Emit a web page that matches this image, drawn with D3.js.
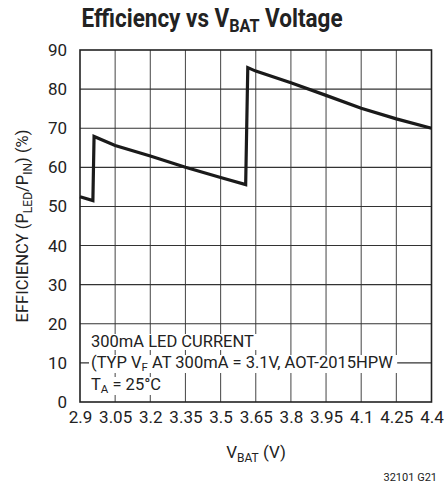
<!DOCTYPE html>
<html><head><meta charset="utf-8">
<script src="https://cdn.jsdelivr.net/npm/d3@7"></script>
<style>body{margin:0;background:#fff}svg{display:block}
text{font-family:"Liberation Sans Narrow","Roboto","Liberation Sans",sans-serif;fill:#222}</style>
</head><body><svg id="c" width="447" height="486"></svg>
<script>
const xTicks = [2.9, 3.05, 3.2, 3.35, 3.5, 3.65, 3.8, 3.95, 4.1, 4.25, 4.4];
const xTickLabels = ["2.9","3.05","3.2","3.35","3.5","3.65","3.8","3.95","4.1","4.25","4.4"];
const yTicks = [0,10,20,30,40,50,60,70,80,90];
const vbat = [2.9, 2.955, 2.96, 3.05, 3.2, 3.35, 3.5, 3.607, 3.616, 3.65, 3.8, 3.95, 4.1, 4.25, 4.4];
const efficiency = [52.5, 51.5, 67.9, 65.6, 62.9, 60.0, 57.4, 55.6, 85.5, 84.6, 81.6, 78.4, 75.1, 72.4, 70.0];

const svg = d3.select("#c");
const m = {l:80, r:431.5, t:50, b:402};
const x = d3.scaleLinear().domain([2.9,4.4]).range([m.l, m.r]);
const y = d3.scaleLinear().domain([0,90]).range([m.b, m.t]);

// grid
const g = svg.append("g");
g.selectAll("line.v").data(xTicks.slice(1,-1)).join("line")
  .attr("x1",d=>x(d)).attr("x2",d=>x(d)).attr("y1",m.t).attr("y2",m.b)
  .attr("stroke","#555").attr("stroke-width",1.1);
g.selectAll("line.h").data(yTicks.slice(1,-1)).join("line")
  .attr("x1",m.l).attr("x2",m.r).attr("y1",d=>y(d)).attr("y2",d=>y(d))
  .attr("stroke","#333").attr("stroke-width",1.1);

// annotation
const ann = svg.append("g").attr("font-size",16.5);
function annLine(yy, parts){
  const t = ann.append("text").attr("x",91).attr("y",yy);
  parts.forEach(p=>{
    const s = t.append("tspan").text(p.t);
    if(p.sub){ s.attr("font-size",11.5).attr("dy",3); }
    if(p.back){ s.attr("dy",-3); }
  });
  const bb = t.node().getBBox();
  ann.insert("rect","text").attr("x",bb.x-2).attr("y",bb.y+2).attr("width",bb.width+6).attr("height",bb.height-3).attr("fill","#fff");
  return t;
}
annLine(347,[{t:"300mA LED CURRENT"}]);
annLine(368,[{t:"(TYP V"},{t:"F",sub:true},{t:" AT 300mA = 3.1V, AOT-2015HPW",back:true}]);
annLine(390,[{t:"T"},{t:"A",sub:true},{t:" = 25°C",back:true}]);

// frame
svg.append("rect").attr("x",m.l).attr("y",m.t).attr("width",m.r-m.l).attr("height",m.b-m.t)
  .attr("fill","none").attr("stroke","#222").attr("stroke-width",1.6);

// data line
const line = d3.line().x((d,i)=>x(vbat[i])).y(d=>y(d));
svg.append("path").datum(efficiency).attr("d",line).attr("fill","none")
  .attr("stroke","#1a1a1a").attr("stroke-width",3.2).attr("stroke-linejoin","miter");

// axes labels
const xa = d3.axisBottom(x).tickValues(xTicks).tickFormat((d,i)=>xTickLabels[i]).tickSize(0).tickPadding(9);
const xg = svg.append("g").attr("transform",`translate(0,${m.b})`).call(xa);
xg.select(".domain").remove();
xg.selectAll("text").attr("font-size",17).attr("fill","#222").attr("font-family",null);
const ya = d3.axisLeft(y).tickValues(yTicks).tickSize(0).tickPadding(13);
const yg = svg.append("g").attr("transform",`translate(${m.l},0)`).call(ya);
yg.select(".domain").remove();
yg.selectAll("text").attr("font-size",17).attr("fill","#222").attr("font-family",null);

// title (condensed horizontally)
const tt = svg.append("text").attr("transform","translate(212,27) scale(0.9,1)").attr("text-anchor","middle")
  .attr("font-size",25).attr("font-weight","bold");
tt.append("tspan").text("Efficiency vs V");
tt.append("tspan").text("BAT").attr("font-size",18).attr("dy",5);
tt.append("tspan").text(" Voltage").attr("dy",-5);

// y label
const yl = svg.append("text").attr("transform",`translate(28,${(m.t+m.b)/2}) rotate(-90)`)
  .attr("text-anchor","middle").attr("font-size",16.5);
yl.append("tspan").text("EFFICIENCY (P");
yl.append("tspan").text("LED").attr("font-size",12).attr("dy",4);
yl.append("tspan").text("/P").attr("dy",-4);
yl.append("tspan").text("IN").attr("font-size",12).attr("dy",4);
yl.append("tspan").text(") (%)").attr("dy",-4);

// x label
const xl = svg.append("text").attr("x",256).attr("y",458).attr("text-anchor","middle").attr("font-size",17);
xl.append("tspan").text("V");
xl.append("tspan").text("BAT").attr("font-size",12).attr("dy",4);
xl.append("tspan").text(" (V)").attr("dy",-4);

svg.append("text").attr("x",437).attr("y",481).attr("text-anchor","end").attr("font-size",11).text("32101 G21");
</script></body></html>
